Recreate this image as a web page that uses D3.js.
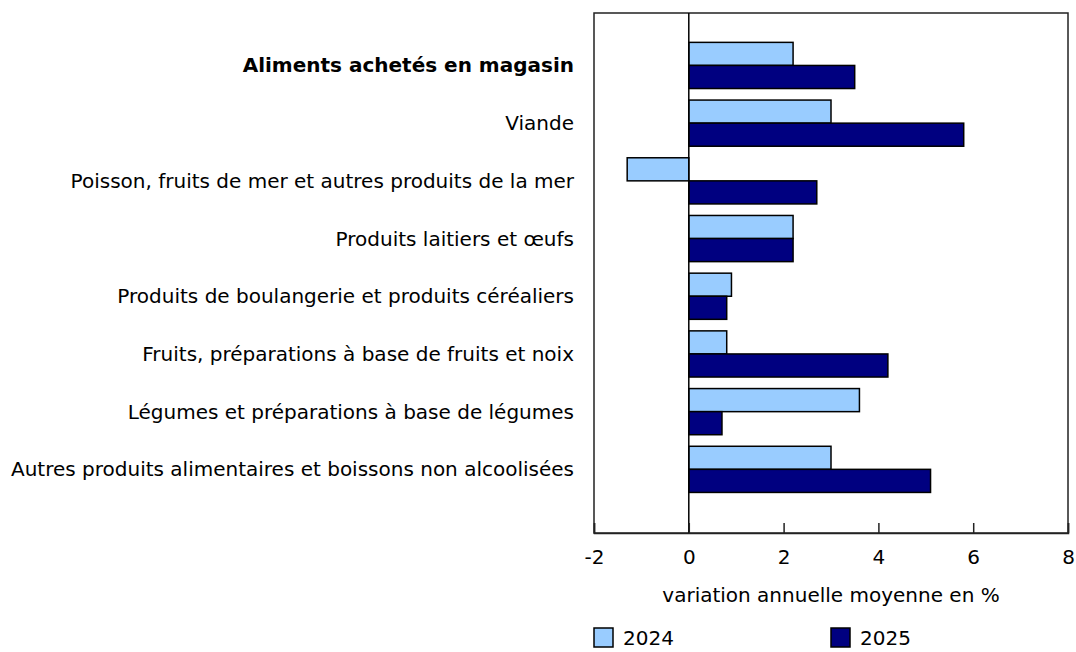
<!DOCTYPE html>
<html lang="fr">
<head>
    <meta charset="UTF-8">
    <style>
        body { margin: 0; background: #fff; }
        svg text { font-family: "DejaVu Sans", Verdana, sans-serif; fill: #000; }
    </style>
    <title>D3</title>
    <script src="https://d3js.org/d3.v7.min.js"></script>
</head>
<body>
<div id="chart"></div>
<script>
    // data
    const categories = [
        "Aliments achetés en magasin",
        "Viande",
        "Poisson, fruits de mer et autres produits de la mer",
        "Produits laitiers et œufs",
        "Produits de boulangerie et produits céréaliers",
        "Fruits, préparations à base de fruits et noix",
        "Légumes et préparations à base de légumes",
        "Autres produits alimentaires et boissons non alcoolisées"
    ]
    const series = ["2024", "2025"]
    const values2024 = [2.2, 3.0, -1.3, 2.2, 0.9, 0.8, 3.6, 3.0]
    const values2025 = [3.5, 5.8, 2.7, 2.2, 0.8, 4.2, 0.7, 5.1]
    const xTicks = [-2, 0, 2, 4, 6, 8]
    const colors = ["#99ccff", "#000080"]

    const W = 1076, H = 652
    const PLOT = { LEFT: 594, RIGHT: 1068, TOP: 13, BOTTOM: 533 }
    const FS = "20px"

    const svg = d3.select("#chart")
        .append("svg")
        .attr("width", W)
        .attr("height", H)

    const x = d3.scaleLinear()
        .domain([-2, 8])
        .range([PLOT.LEFT, PLOT.RIGHT])

    const y = d3.scaleBand()
        .domain(categories)
        .range([36.6, 498.2])
        .paddingInner(0.2)
        .paddingOuter(0.1)

    const ySub = d3.scaleBand()
        .domain(series)
        .range([0, y.bandwidth()])

    const rows = categories.map((c, i) => ({
        cat: c,
        vals: [values2024[i], values2025[i]]
    }))

    // bars
    const groups = svg.selectAll("g.grp").data(rows)
        .enter().append("g")
        .attr("class", "grp")
        .attr("transform", d => `translate(0, ${y(d.cat)})`)

    groups.selectAll("rect")
        .data(d => d.vals.map((v, j) => ({ v: v, s: series[j], j: j })))
        .enter().append("rect")
        .attr("x", d => x(Math.min(0, d.v)))
        .attr("y", d => ySub(d.s))
        .attr("width", d => Math.abs(x(d.v) - x(0)))
        .attr("height", ySub.bandwidth())
        .attr("fill", d => colors[d.j])
        .attr("stroke", "#000")
        .attr("stroke-width", 1.5)

    // frame
    svg.append("rect")
        .attr("x", PLOT.LEFT)
        .attr("y", PLOT.TOP)
        .attr("width", PLOT.RIGHT - PLOT.LEFT)
        .attr("height", PLOT.BOTTOM - PLOT.TOP)
        .attr("fill", "none")
        .attr("stroke", "#222")
        .attr("stroke-width", 1.5)

    // zero line
    svg.append("line")
        .attr("x1", x(0)).attr("x2", x(0))
        .attr("y1", PLOT.TOP).attr("y2", PLOT.BOTTOM)
        .attr("stroke", "#000")
        .attr("stroke-width", 1.5)

    // x axis (ticks pointing up inside the frame)
    const xAxis = d3.axisTop(x)
        .tickValues(xTicks)
        .tickSize(10)
        .tickFormat(d => String(d))
    const ax = svg.append("g")
        .attr("transform", `translate(0, ${PLOT.BOTTOM})`)
        .call(xAxis)
    ax.select(".domain").attr("stroke", "#222").attr("stroke-width", 1.5)
    ax.selectAll(".tick line").attr("stroke", "#222").attr("stroke-width", 1.5)
    ax.selectAll(".tick text")
        .attr("y", 31)
        .attr("dy", 0)
        .attr("font-size", FS)
        .style("font-family", "'DejaVu Sans', Verdana, sans-serif")
        .attr("fill", "#000")

    // category labels
    svg.selectAll("text.cat").data(categories)
        .enter().append("text")
        .attr("class", "cat")
        .attr("x", 574)
        .attr("y", d => y(d) + y.bandwidth() / 2)
        .attr("dy", "0.35em")
        .attr("text-anchor", "end")
        .attr("font-size", FS)
        .attr("font-weight", (d, i) => i === 0 ? "bold" : "normal")
        .text(d => d)

    // axis title
    svg.append("text")
        .attr("x", (PLOT.LEFT + PLOT.RIGHT) / 2)
        .attr("y", 602)
        .attr("text-anchor", "middle")
        .attr("font-size", FS)
        .text("variation annuelle moyenne en %")

    // legend
    const legX = [594, 831]
    const leg = svg.selectAll("g.leg").data(series)
        .enter().append("g")
        .attr("class", "leg")
        .attr("transform", (d, i) => `translate(${legX[i]}, 628)`)
    leg.append("rect")
        .attr("width", 19).attr("height", 19)
        .attr("fill", (d, i) => colors[i])
        .attr("stroke", "#000")
        .attr("stroke-width", 1.5)
    leg.append("text")
        .attr("x", 29)
        .attr("y", 17)
        .attr("font-size", FS)
        .text(d => d)
</script>
</body>
</html>
